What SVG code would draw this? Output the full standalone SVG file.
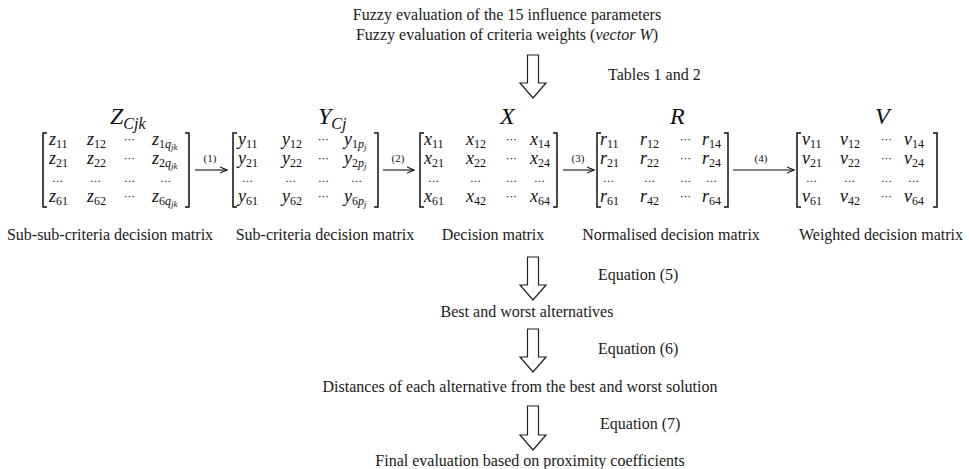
<svg xmlns="http://www.w3.org/2000/svg" width="969" height="469" viewBox="0 0 969 469">
<style>
.t{font-family:"Liberation Serif","Times New Roman",serif;font-size:16px;fill:#1a1a1a}
.m{font-family:"Liberation Serif","Times New Roman",serif;font-style:italic;font-size:18px;fill:#111}
.s{font-size:12px;font-style:normal}
.si{font-size:12px;font-style:italic}
.ss{font-size:9px;font-style:italic}
.d{font-family:"DejaVu Sans",sans-serif;font-size:11px;fill:#111}
.h{font-family:"Liberation Serif","Times New Roman",serif;font-style:italic;font-size:24px;fill:#111}
.hs{font-size:16px}
.br{fill:none;stroke:#111;stroke-width:1.5}
.va{fill:#fff;stroke:#222;stroke-width:1.2}
.ha{stroke:#111;stroke-width:1.1;fill:none;marker-end:url(#ah)}
.lb{font-family:"Liberation Serif","Times New Roman",serif;font-size:11px;fill:#111}
</style>
<defs>
<marker id="ah" markerWidth="8" markerHeight="8" refX="7" refY="4" orient="auto" markerUnits="userSpaceOnUse">
<path d="M0,1 L7,4 L0,7" fill="none" stroke="#111" stroke-width="1.1"/>
</marker>
</defs>

<g id="top-text">
<text class="t" x="507" y="20" text-anchor="middle">Fuzzy evaluation of the 15 influence parameters</text>
<text class="t" x="507" y="40" text-anchor="middle">Fuzzy evaluation of criteria weights (<tspan font-style="italic">vector W</tspan>)</text>
<text class="t" x="608" y="80" font-size="15">Tables 1 and 2</text>
</g>

<g id="connectors">
<path class="va" d="M527.5,55 H538.5 V83 H546 L533,98 L520,83 H527.5 Z"/>
<path class="va" d="M527.5,257 H538.5 V285 H546 L533,300 L520,285 H527.5 Z"/>
<path class="va" d="M527.5,329 H538.5 V357 H546 L533,372 L520,357 H527.5 Z"/>
<path class="va" d="M527.5,406 H538.5 V435 H546 L533,450 L520,435 H527.5 Z"/>
<line class="ha" x1="195" y1="170" x2="227" y2="170"/>
<line class="ha" x1="383" y1="170" x2="414" y2="170"/>
<line class="ha" x1="563" y1="170" x2="594" y2="170"/>
<line class="ha" x1="733" y1="170" x2="794" y2="170"/>
<text class="lb" x="210" y="162" text-anchor="middle">(1)</text>
<text class="lb" x="398" y="162" text-anchor="middle">(2)</text>
<text class="lb" x="578" y="162" text-anchor="middle">(3)</text>
<text class="lb" x="761" y="162" text-anchor="middle">(4)</text>
</g>

<g id="matrix-Z">
<text class="h" x="110" y="124">Z<tspan class="hs" dy="5">Cjk</tspan></text>
<path class="br" d="M47,133 H43 V207 H47 M185,133 H189 V207 H185"/>
<text class="m" x="49" y="145">z<tspan class="s" dy="3">11</tspan></text>
<text class="m" x="87" y="145">z<tspan class="s" dy="3">12</tspan></text>
<text class="d" x="124" y="143">⋯</text>
<text class="m" x="152" y="145">z<tspan class="s" dy="3">1</tspan><tspan class="si">q</tspan><tspan class="ss" dy="2">jk</tspan></text>
<text class="m" x="49" y="164">z<tspan class="s" dy="3">21</tspan></text>
<text class="m" x="87" y="164">z<tspan class="s" dy="3">22</tspan></text>
<text class="d" x="124" y="162">⋯</text>
<text class="m" x="152" y="164">z<tspan class="s" dy="3">2</tspan><tspan class="si">q</tspan><tspan class="ss" dy="2">jk</tspan></text>
<text class="d" x="52" y="182">…</text>
<text class="d" x="90" y="182">…</text>
<text class="d" x="124" y="182">…</text>
<text class="d" x="160" y="182">…</text>
<text class="m" x="49" y="202">z<tspan class="s" dy="3">61</tspan></text>
<text class="m" x="87" y="202">z<tspan class="s" dy="3">62</tspan></text>
<text class="d" x="124" y="200">⋯</text>
<text class="m" x="152" y="202">z<tspan class="s" dy="3">6</tspan><tspan class="si">q</tspan><tspan class="ss" dy="2">jk</tspan></text>
<text class="t" x="110" y="240" text-anchor="middle">Sub-sub-criteria  decision matrix</text>
</g>

<g id="matrix-Y">
<text class="h" x="318" y="124">Y<tspan class="hs" dy="5">Cj</tspan></text>
<path class="br" d="M237,133 H233 V207 H237 M374,133 H378 V207 H374"/>
<text class="m" x="238" y="145">y<tspan class="s" dy="3">11</tspan></text>
<text class="m" x="282" y="145">y<tspan class="s" dy="3">12</tspan></text>
<text class="d" x="318" y="143">⋯</text>
<text class="m" x="344" y="145">y<tspan class="s" dy="3">1</tspan><tspan class="si">p</tspan><tspan class="ss" dy="2">j</tspan></text>
<text class="m" x="238" y="164">y<tspan class="s" dy="3">21</tspan></text>
<text class="m" x="282" y="164">y<tspan class="s" dy="3">22</tspan></text>
<text class="d" x="318" y="162">⋯</text>
<text class="m" x="344" y="164">y<tspan class="s" dy="3">2</tspan><tspan class="si">p</tspan><tspan class="ss" dy="2">j</tspan></text>
<text class="d" x="242" y="182">…</text>
<text class="d" x="285" y="182">…</text>
<text class="d" x="318" y="182">…</text>
<text class="d" x="351" y="182">…</text>
<text class="m" x="238" y="202">y<tspan class="s" dy="3">61</tspan></text>
<text class="m" x="282" y="202">y<tspan class="s" dy="3">62</tspan></text>
<text class="d" x="318" y="200">⋯</text>
<text class="m" x="344" y="202">y<tspan class="s" dy="3">6</tspan><tspan class="si">p</tspan><tspan class="ss" dy="2">j</tspan></text>
<text class="t" x="325" y="240" text-anchor="middle">Sub-criteria  decision matrix</text>
</g>

<g id="matrix-X">
<text class="h" x="500" y="124">X</text>
<path class="br" d="M424,133 H420 V207 H424 M553,133 H557 V207 H553"/>
<text class="m" x="424" y="145">x<tspan class="s" dy="3">11</tspan></text>
<text class="m" x="466" y="145">x<tspan class="s" dy="3">12</tspan></text>
<text class="d" x="506" y="143">⋯</text>
<text class="m" x="530" y="145">x<tspan class="s" dy="3">14</tspan></text>
<text class="m" x="424" y="164">x<tspan class="s" dy="3">21</tspan></text>
<text class="m" x="466" y="164">x<tspan class="s" dy="3">22</tspan></text>
<text class="d" x="506" y="162">⋯</text>
<text class="m" x="530" y="164">x<tspan class="s" dy="3">24</tspan></text>
<text class="d" x="428" y="182">…</text>
<text class="d" x="470" y="182">…</text>
<text class="d" x="506" y="182">…</text>
<text class="d" x="534" y="182">…</text>
<text class="m" x="424" y="202">x<tspan class="s" dy="3">61</tspan></text>
<text class="m" x="466" y="202">x<tspan class="s" dy="3">42</tspan></text>
<text class="d" x="506" y="200">⋯</text>
<text class="m" x="530" y="202">x<tspan class="s" dy="3">64</tspan></text>
<text class="t" x="493" y="240" text-anchor="middle">Decision matrix</text>
</g>

<g id="matrix-R">
<text class="h" x="670" y="124">R</text>
<path class="br" d="M601,133 H597 V207 H601 M724,133 H728 V207 H724"/>
<text class="m" x="600" y="145">r<tspan class="s" dy="3">11</tspan></text>
<text class="m" x="640" y="145">r<tspan class="s" dy="3">12</tspan></text>
<text class="d" x="680" y="143">⋯</text>
<text class="m" x="702" y="145">r<tspan class="s" dy="3">14</tspan></text>
<text class="m" x="600" y="164">r<tspan class="s" dy="3">21</tspan></text>
<text class="m" x="640" y="164">r<tspan class="s" dy="3">22</tspan></text>
<text class="d" x="680" y="162">⋯</text>
<text class="m" x="702" y="164">r<tspan class="s" dy="3">24</tspan></text>
<text class="d" x="603" y="182">…</text>
<text class="d" x="644" y="182">…</text>
<text class="d" x="680" y="182">…</text>
<text class="d" x="706" y="182">…</text>
<text class="m" x="600" y="202">r<tspan class="s" dy="3">61</tspan></text>
<text class="m" x="640" y="202">r<tspan class="s" dy="3">42</tspan></text>
<text class="d" x="680" y="200">⋯</text>
<text class="m" x="702" y="202">r<tspan class="s" dy="3">64</tspan></text>
<text class="t" x="671" y="240" text-anchor="middle">Normalised  decision matrix</text>
</g>

<g id="matrix-V">
<text class="h" x="875" y="124">V</text>
<path class="br" d="M801,133 H797 V207 H801 M933,133 H937 V207 H933"/>
<text class="m" x="802" y="145">v<tspan class="s" dy="3">11</tspan></text>
<text class="m" x="840" y="145">v<tspan class="s" dy="3">12</tspan></text>
<text class="d" x="881" y="143">⋯</text>
<text class="m" x="904" y="145">v<tspan class="s" dy="3">14</tspan></text>
<text class="m" x="802" y="164">v<tspan class="s" dy="3">21</tspan></text>
<text class="m" x="840" y="164">v<tspan class="s" dy="3">22</tspan></text>
<text class="d" x="881" y="162">⋯</text>
<text class="m" x="904" y="164">v<tspan class="s" dy="3">24</tspan></text>
<text class="d" x="806" y="182">…</text>
<text class="d" x="844" y="182">…</text>
<text class="d" x="881" y="182">…</text>
<text class="d" x="908" y="182">…</text>
<text class="m" x="802" y="202">v<tspan class="s" dy="3">61</tspan></text>
<text class="m" x="840" y="202">v<tspan class="s" dy="3">42</tspan></text>
<text class="d" x="881" y="200">⋯</text>
<text class="m" x="904" y="202">v<tspan class="s" dy="3">64</tspan></text>
<text class="t" x="881" y="240" text-anchor="middle">Weighted decision matrix</text>
</g>

<g id="best-worst">
<text class="t" x="598" y="280">Equation (5)</text>
<text class="t" x="527" y="317" text-anchor="middle">Best and worst alternatives</text>
</g>
<g id="distances">
<text class="t" x="598" y="354">Equation (6)</text>
<text class="t" x="520" y="392" text-anchor="middle">Distances of each alternative from the best and worst solution</text>
</g>
<g id="final">
<text class="t" x="600" y="429">Equation (7)</text>
<text class="t" x="530" y="466" text-anchor="middle">Final evaluation based on proximity coefficients</text>
</g>
</svg>
